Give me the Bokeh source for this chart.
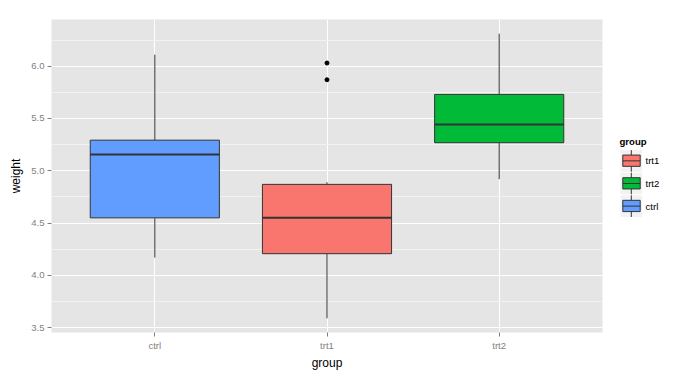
from bokeh.plotting import figure
from bokeh.models import Range1d, FixedTicker, NumeralTickFormatter
from bokeh.layouts import row
from bokeh.embed import file_html
from bokeh.resources import INLINE
from bokeh.core.properties import value

# ---- data ----
groups = ["ctrl", "trt1", "trt2"]
lower_whisker = [4.17, 3.59, 4.92]
q1 = [4.55, 4.2075, 5.268]
median = [5.155, 4.55, 5.442]
q3 = [5.2925, 4.87, 5.73]
upper_whisker = [6.11, 4.89, 6.31]
outlier_group = ["trt1", "trt1"]
outlier_values = [5.87, 6.03]
fill_colors = ["#619CFF", "#F8766D", "#00BA38"]
legend_order = ["trt1", "trt2", "ctrl"]
y_ticks = [3.5, 4.0, 4.5, 5.0, 5.5, 6.0]
y_minor = [3.75, 4.25, 4.75, 5.25, 5.75, 6.25]

FONT = "Liberation Sans"
BOX_W = 0.75
H = 372
TOP, BOTTOM = 19, 39

xs = [i + 1 for i in range(len(groups))]
xpos = {g: x for g, x in zip(groups, xs)}
color_of = {g: c for g, c in zip(groups, fill_colors)}

p = figure(width=612, height=H,
           x_range=Range1d(0.4, 3.6), y_range=Range1d(3.454, 6.446),
           output_backend="svg", toolbar_location=None,
           min_border_left=51, min_border_right=10,
           min_border_top=TOP, min_border_bottom=BOTTOM)
p.background_fill_color = "#E5E5E5"
p.border_fill_color = "white"
p.outline_line_color = None

p.xaxis.ticker = FixedTicker(ticks=xs)
p.xaxis.major_label_overrides = {x: g for x, g in zip(xs, groups)}
p.yaxis.ticker = FixedTicker(ticks=y_ticks, minor_ticks=y_minor)
p.yaxis.formatter = NumeralTickFormatter(format="0.0")
p.xgrid.grid_line_color = "white"
p.xgrid.grid_line_width = 1
p.ygrid.grid_line_color = "white"
p.ygrid.grid_line_width = 1
p.ygrid.minor_grid_line_color = "#F2F2F2"
p.ygrid.minor_grid_line_width = 1

for ax in (p.xaxis[0], p.yaxis[0]):
    ax.axis_line_color = None
    ax.major_tick_in = 0
    ax.major_tick_out = 4
    ax.major_tick_line_color = "#7F7F7F"
    ax.minor_tick_line_color = None
    ax.major_label_text_color = "#7F7F7F"
    ax.major_label_text_font = FONT
    ax.major_label_text_font_size = "9.6px"
    ax.major_label_standoff = 3
    ax.axis_label_text_font = FONT
    ax.axis_label_text_font_size = "12px"
    ax.axis_label_text_font_style = "normal"
    ax.axis_label_text_color = "black"

p.xaxis.axis_label = "group"
p.xaxis.axis_label_standoff = 2
p.yaxis.axis_label = "weight"
p.yaxis.axis_label_standoff = 5

p.segment(x0=xs, x1=xs, y0=q3, y1=upper_whisker, line_color="#333333", line_width=1)
p.segment(x0=xs, x1=xs, y0=q1, y1=lower_whisker, line_color="#333333", line_width=1)
p.vbar(x=xs, width=BOX_W, bottom=q1, top=q3, fill_color=fill_colors,
       line_color="#333333", line_width=1)
p.segment(x0=[x - BOX_W / 2 for x in xs], x1=[x + BOX_W / 2 for x in xs],
          y0=median, y1=median, line_color="#333333", line_width=2)
p.scatter(x=[xpos[g] for g in outlier_group], y=outlier_values, size=4,
          fill_color="black", line_color="black")

# legend panel: its frame spans the same rows as the main frame
leg = figure(width=68, height=H, x_range=Range1d(612, 680),
             y_range=Range1d(H - BOTTOM, TOP),
             output_backend="svg", toolbar_location=None,
             x_axis_location=None, y_axis_location=None,
             min_border_left=0, min_border_right=0,
             min_border_top=TOP, min_border_bottom=BOTTOM)
leg.outline_line_color = None
leg.grid.visible = False
leg.background_fill_color = "white"
leg.border_fill_color = "white"

leg.text(x=[619], y=[141.7], text=["group"], text_font=value(FONT),
         text_font_size="9.6px", text_font_style="bold", text_baseline="middle",
         text_color="black")
key_top0, key_step, key_h = 150.0, 22.7, 21.7
for i, g in enumerate(legend_order):
    t = key_top0 + i * key_step
    leg.quad(left=[620], right=[641.7], top=[t], bottom=[t + key_h],
             fill_color="#F2F2F2", line_color=None)
    leg.segment(x0=[630.8, 630.8], x1=[630.8, 630.8], y0=[t, t + 16.3],
                y1=[t + 5, t + key_h], line_color="#333333", line_width=1)
    leg.quad(left=[622.3], right=[639.7], top=[t + 5], bottom=[t + 16.3],
             fill_color=color_of[g], line_color="#333333", line_width=1)
    leg.segment(x0=[622.3], x1=[639.7], y0=[t + 10.8], y1=[t + 10.8],
                line_color="#333333", line_width=1)
    leg.text(x=[645], y=[t + 10.8], text=[g], text_font=value(FONT),
             text_font_size="9.6px", text_baseline="middle", text_color="black")

layout = row(p, leg)
open("out.html", "w").write(file_html(layout, INLINE))
